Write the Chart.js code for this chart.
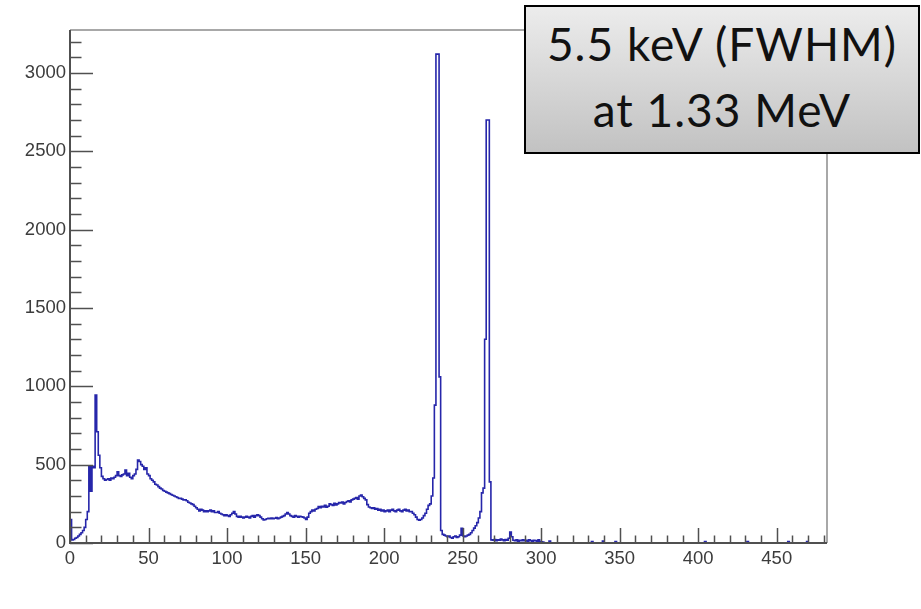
<!DOCTYPE html>
<html>
<head>
<meta charset="utf-8">
<script src="https://cdn.jsdelivr.net/npm/chart.js@4.4.1/dist/chart.umd.min.js"></script>
<style>
html,body{margin:0;padding:0;background:#ffffff;}
#wrap{position:relative;width:921px;height:609px;overflow:hidden;}
#c{position:absolute;left:0;top:0;}
#box{position:absolute;left:524px;top:5px;width:392px;height:145px;border:2px solid #000;
  background:linear-gradient(#ececec,#c2c2c2);font-family:Lato,"Open Sans",sans-serif;color:#111;}
.ln{position:absolute;left:0;right:0;text-align:center;font-size:46px;line-height:46px;white-space:nowrap;letter-spacing:1px;}
</style>
</head>
<body>
<div id="wrap">
<canvas id="c" width="921" height="609"></canvas>
<div id="box"><div class="ln" style="top:14px">5.5 keV (FWHM)</div><div class="ln" style="top:80px">at 1.33 MeV</div></div>
</div>
<script>
// ---- data (bin width 1 channel) ----
const binWidth = 1;
const nBins = 482;
// counts for bins 0..309
const lowCounts = [
150,20,22,30,35,45,55,65,80,100,
150,200,490,330,490,480,945,710,560,480,
425,410,400,405,410,400,415,410,420,430,
455,430,425,435,440,465,430,445,420,410,
430,440,470,530,520,500,490,470,480,440,
430,410,400,390,375,370,360,350,345,335,
330,325,320,315,310,305,300,295,290,285,
285,280,275,275,270,260,255,250,245,235,
225,215,205,215,210,200,205,200,205,210,
200,205,195,195,200,190,185,180,175,180,
175,170,180,190,200,185,170,165,170,165,
160,165,170,165,160,170,175,165,175,180,
175,165,155,147,150,155,158,155,160,155,
158,162,155,160,165,170,175,185,194,185,
175,170,165,175,170,165,170,168,165,160,
150,165,190,200,210,205,215,220,232,225,
235,230,240,228,235,250,245,240,253,243,
250,258,255,262,250,258,265,270,262,275,
280,285,290,280,300,306,295,285,275,245,
230,225,220,225,215,220,210,215,205,210,
200,205,210,200,210,215,205,200,210,215,
205,200,210,215,205,210,200,200,190,180,
165,150,145,150,160,175,190,215,240,250,
300,415,880,3120,3120,1060,80,55,50,45,
40,45,35,30,40,45,35,40,50,94,
45,40,45,50,55,65,80,95,110,130,
160,200,320,350,1300,2700,2700,390,20,18,
22,15,20,18,25,20,15,22,18,30,
70,40,18,15,20,12,18,15,20,15,
18,12,20,15,10,18,15,12,20,10,
8,5,0,0,0,12,0,0,0,0
];
// isolated single counts in the tail (all other tail bins empty)
const tailBins = [332,339,347,404,431,457,469];
const tailCounts = [10,12,10,10,10,10,10];

const xTickValues = [0,50,100,150,200,250,300,350,400,450];
const yTickValues = [0,500,1000,1500,2000,2500,3000];
const xMinorStep = 10;
const yMinorStep = 100;
const xMax = 482;
const yMax = 3274;

// ---- build histogram points ----
const counts = new Array(nBins).fill(0);
lowCounts.forEach((v,i)=>{counts[i]=v;});
tailBins.forEach((b,i)=>{counts[b]=tailCounts[i];});
const pts = counts.map((v,i)=>({x:i*binWidth,y:v}));
pts.push({x:nBins*binWidth,y:counts[nBins-1]});

const axisColor = '#505050';
const frameColor = '#a8a8a8';

const rootAxes = {
  id:'rootAxes',
  afterDraw(chart){
    const {ctx, chartArea:a, scales:{x,y}} = chart;
    ctx.save();
    // frame (top & right)
    ctx.strokeStyle = frameColor; ctx.lineWidth = 2;
    ctx.beginPath();
    ctx.moveTo(a.left, a.top); ctx.lineTo(a.right, a.top); ctx.lineTo(a.right, a.bottom);
    ctx.stroke();
    // axes
    ctx.strokeStyle = axisColor; ctx.lineWidth = 2;
    ctx.beginPath();
    ctx.moveTo(a.left, a.top); ctx.lineTo(a.left, a.bottom); ctx.lineTo(a.right, a.bottom);
    ctx.stroke();
    // ticks
    ctx.lineWidth = 1.5;
    ctx.beginPath();
    for(let v=0; v<=xMax; v+=xMinorStep){
      const px = Math.round(x.getPixelForValue(v))+0.5;
      const len = (v%50===0)?15:7.5;
      ctx.moveTo(px, a.bottom); ctx.lineTo(px, a.bottom-len);
    }
    for(let v=0; v<=yMax; v+=yMinorStep){
      const py = Math.round(y.getPixelForValue(v))+0.5;
      const len = (v%500===0)?23:11.5;
      ctx.moveTo(a.left, py); ctx.lineTo(a.left+len, py);
    }
    ctx.stroke();
    ctx.restore();
  }
};

const tickFont = {family:'"Liberation Sans", Arial, sans-serif', size:18.5};
const plain = v => String(v);

new Chart(document.getElementById('c'), {
  type:'line',
  data:{datasets:[{
    data:pts,
    stepped:'before',
    borderColor:'rgb(38,38,170)',
    borderWidth:1.6,
    pointRadius:0,
    fill:false,
    tension:0
  }]},
  options:{
    responsive:false,
    animation:false,
    events:[],
    layout:{padding:{top:30,right:94,left:0,bottom:0}},
    plugins:{legend:{display:false},tooltip:{enabled:false},title:{display:false}},
    scales:{
      x:{
        type:'linear', min:0, max:xMax,
        grid:{display:false, drawTicks:false},
        border:{display:false},
        ticks:{font:tickFont, color:'#3c3c3c', padding:5, maxRotation:0, autoSkip:false, callback:plain},
        afterBuildTicks:s=>{s.ticks = xTickValues.map(v=>({value:v}));},
        afterFit:s=>{s.height = 66;}
      },
      y:{
        type:'linear', min:0, max:yMax,
        grid:{display:false, drawTicks:false},
        border:{display:false},
        ticks:{font:tickFont, color:'#3c3c3c', padding:4, autoSkip:false, callback:plain},
        afterBuildTicks:s=>{s.ticks = yTickValues.map(v=>({value:v}));},
        afterFit:s=>{s.width = 70;}
      }
    }
  },
  plugins:[rootAxes]
});
</script>
</body>
</html>
